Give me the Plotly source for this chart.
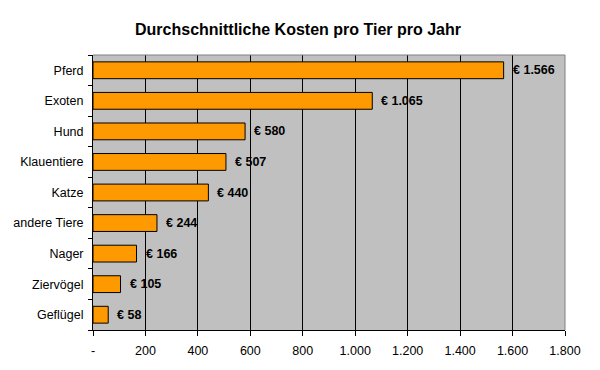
import plotly.graph_objects as go

categories = ["Pferd", "Exoten", "Hund", "Klauentiere", "Katze", "andere Tiere", "Nager", "Ziervögel", "Geflügel"]
values = [1566, 1065, 580, 507, 440, 244, 166, 105, 58]
tick_values = [0, 200, 400, 600, 800, 1000, 1200, 1400, 1600, 1800]
tick_labels = ["-", "200", "400", "600", "800", "1.000", "1.200", "1.400", "1.600", "1.800"]

def fmt(v):
    return "€ " + f"{v:,}".replace(",", ".")

font_family = "Liberation Sans, Arial, sans-serif"

fig = go.Figure()
fig.add_trace(go.Bar(
    y=categories, x=values, orientation="h",
    marker=dict(color="#FF9900", line=dict(color="black", width=1)),
    width=0.55,
    hoverinfo="skip",
))

for c, v in zip(categories, values):
    fig.add_annotation(x=v, y=c, text="<b>" + fmt(v) + "</b>", showarrow=False,
                       xanchor="left", xshift=7, font=dict(size=12.5, color="black", family=font_family))

fig.update_layout(
    width=600, height=370,
    margin=dict(l=93, r=35, t=55, b=37),
    paper_bgcolor="white",
    plot_bgcolor="#C0C0C0",
    showlegend=False,
    font=dict(family=font_family, size=12.5, color="black"),
    title=dict(text="<b>Durchschnittliche Kosten pro Tier pro Jahr</b>", x=298 / 600, xanchor="center",
               y=1 - 29 / 370, yanchor="middle", font=dict(size=16, color="black")),
    xaxis=dict(
        range=[0, 1800], tickvals=tick_values, ticktext=tick_labels,
        showgrid=True, gridcolor="black", gridwidth=1, zeroline=False,
        showline=True, linecolor="black", linewidth=1,
        ticks="outside", ticklen=5, tickcolor="black",
        tickfont=dict(size=12.5), fixedrange=True, ticklabelstandoff=4,
    ),
    yaxis=dict(
        categoryorder="array", categoryarray=categories[::-1],
        showgrid=False, zeroline=False,
        showline=True, linecolor="black", linewidth=1,
        ticks="outside", ticklen=4, tickcolor="black", tickson="boundaries",
        tickfont=dict(size=12.5), fixedrange=True, ticklabelstandoff=6,
    ),
    bargap=0.45,
)

# gray top and right border of plot area
fig.add_shape(type="line", xref="paper", yref="paper", x0=0, x1=1, y0=1, y1=1,
              line=dict(color="#808080", width=1))
fig.add_shape(type="line", xref="paper", yref="paper", x0=1, x1=1, y0=0, y1=1,
              line=dict(color="#808080", width=1))

fig.write_html("out.html", config={"displayModeBar": False},
               post_script="document.body.style.margin='0';document.body.style.overflow='hidden';")
